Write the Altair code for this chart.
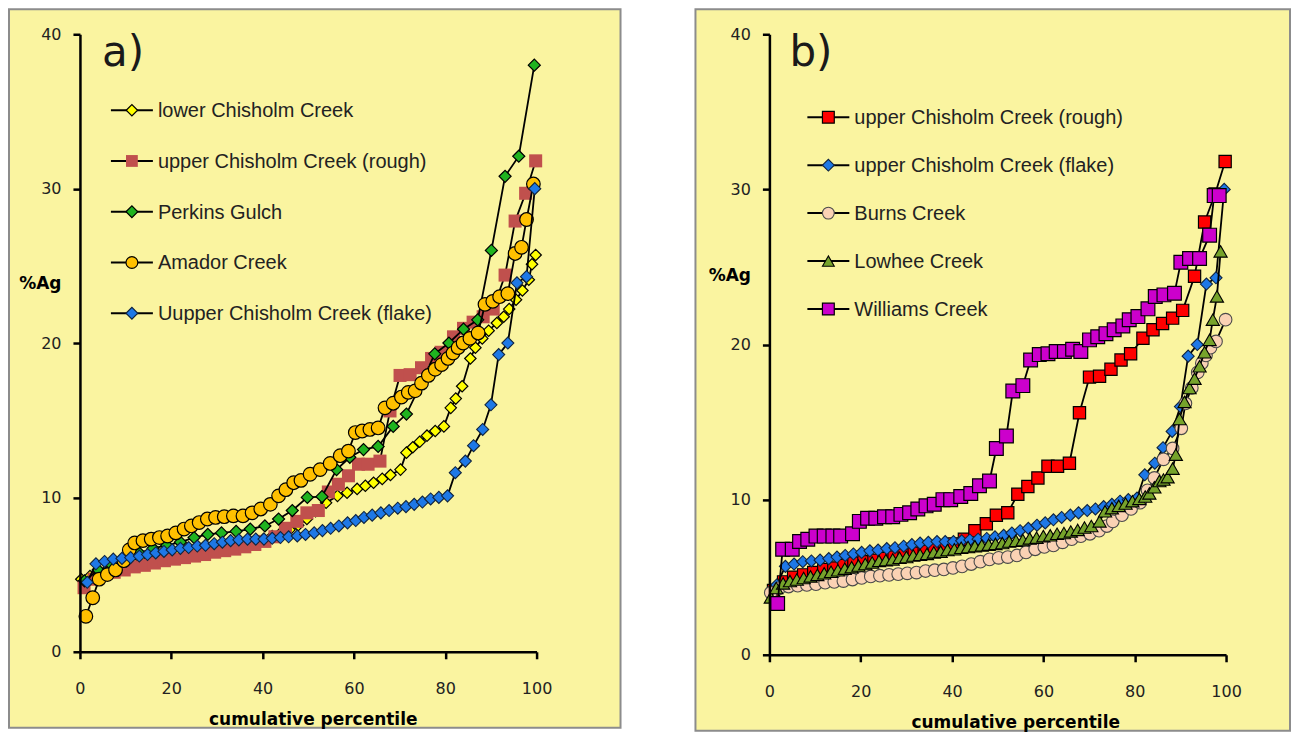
import altair as alt
import pandas as pd

# ---------------- data ----------------
# panel a
LOWER_P = [0.3, 2.2, 4.1, 6.0, 7.9, 9.8, 11.7, 13.6, 15.5, 17.4, 19.3, 21.2, 23.1, 25.0, 26.9, 28.8, 30.7,
           32.6, 34.5, 36.4, 38.3, 40.2, 42.1, 44.0, 45.9, 47.8, 49.7, 51.6, 53.9, 56.4, 58.5, 60.7, 62.5,
           64.3, 66.2, 68.0, 70.2, 71.5, 72.9, 74.4, 76.0, 77.8, 79.7, 81.2, 82.3, 83.7, 85.5, 86.6, 88.1,
           89.5, 91.3, 92.8, 94.0, 95.5, 96.9, 98.3, 99.0, 99.8]
LOWER_V = [4.7, 4.9, 5.1, 5.3, 5.45, 5.6, 5.75, 5.85, 5.95, 6.05, 6.15, 6.25, 6.35, 6.45, 6.55, 6.65, 6.75,
           6.85, 6.95, 7.05, 7.15, 7.3, 7.5, 7.7, 7.9, 8.2, 8.6, 9.1, 9.65, 10.1, 10.3, 10.55, 10.75,
           10.95, 11.2, 11.45, 11.8, 12.9, 13.25, 13.6, 14.0, 14.3, 14.6, 15.8, 16.4, 17.2, 19.0, 19.7, 20.3,
           20.8, 21.3, 21.7, 22.2, 22.8, 23.4, 24.1, 25.1, 25.7]

PERKINS_P = [1.0, 4.0, 7.0, 10.0, 13.0, 16.0, 19.0, 22.0, 25.0, 28.0, 31.0, 34.2, 37.3, 40.5, 43.5, 46.5,
             49.8, 53.0, 56.2, 59.1, 62.1, 65.3, 68.6, 71.5, 74.6, 77.7, 80.8, 84.0, 87.1, 90.1, 93.1, 96.1, 99.5]
PERKINS_V = [4.6, 5.3, 5.6, 6.0, 6.4, 6.7, 6.9, 7.1, 7.4, 7.6, 7.7, 7.8, 7.95, 8.15, 8.6, 9.15,
             10.0, 10.05, 11.8, 12.6, 13.1, 13.3, 14.6, 15.4, 17.3, 19.3, 20.0, 20.9, 21.5, 26.0, 30.8, 32.1, 38.0]

AMADOR_P = [1.3, 2.8, 4.2, 6.0, 7.8, 9.6, 10.8, 12.0, 13.8, 15.6, 17.4, 19.2, 21.0, 22.8, 24.4, 26.1, 27.9,
            29.7, 31.6, 33.6, 35.7, 37.7, 39.6, 41.7, 43.5, 45.1, 46.8, 48.4, 50.4, 52.6, 54.8, 57.0, 58.8,
            60.3, 61.8, 63.5, 65.3, 66.8, 68.6, 70.4, 71.9, 73.4, 74.8, 76.3, 77.8, 79.2, 80.6, 81.7, 82.8,
            83.9, 85.4, 87.2, 88.7, 90.4, 91.9, 93.7, 95.3, 96.7, 97.8, 99.3]
AMADOR_V = [2.3, 3.5, 4.7, 5.0, 5.3, 5.9, 6.6, 7.05, 7.2, 7.3, 7.4, 7.5, 7.7, 7.95, 8.15, 8.37, 8.6,
            8.7, 8.75, 8.8, 8.8, 9.0, 9.25, 9.55, 10.1, 10.5, 10.95, 11.1, 11.5, 11.8, 12.2, 12.7, 13.0,
            14.2, 14.3, 14.4, 14.5, 15.8, 16.1, 16.5, 16.8, 16.9, 17.4, 17.9, 18.3, 18.6, 19.0, 19.35, 19.7,
            20.0, 20.3, 20.65, 22.5, 22.7, 23.0, 23.2, 25.8, 26.2, 28.0, 30.3]

# shared by both panels
ROUGH_P = [0.9, 3.1, 5.3, 7.5, 9.7, 11.9, 14.1, 16.3, 18.5, 20.7, 22.9, 25.1, 27.3, 29.5, 31.7, 33.9, 36.1,
           38.3, 40.5, 42.7, 45.0, 47.5, 49.7, 52.2, 54.4, 56.6, 58.8, 61.0, 63.1, 65.7, 67.9, 70.1, 72.3,
           74.8, 77.0, 79.1, 81.8, 84.0, 86.1, 88.3, 90.5, 93.1, 95.3, 97.6, 99.8]
ROUGH_V = [4.15, 4.7, 5.0, 5.15, 5.3, 5.5, 5.6, 5.75, 5.9, 6.0, 6.1, 6.2, 6.3, 6.45, 6.55, 6.65, 6.8,
           6.95, 7.15, 7.45, 8.0, 8.45, 9.0, 9.15, 10.35, 10.85, 11.4, 12.15, 12.15, 12.35, 15.6, 17.9, 17.95,
           18.4, 19.0, 19.4, 20.4, 20.95, 21.35, 21.7, 22.2, 24.4, 27.9, 29.7, 31.8]

FLAKE_P = [1.6, 3.5, 5.4, 7.3, 9.2, 11.1, 13.0, 14.8, 16.6, 18.4, 20.2, 22.0, 23.8, 25.7, 27.5, 29.4, 31.2,
           33.0, 34.8, 36.7, 38.5, 40.3, 42.1, 43.9, 45.7, 47.6, 49.4, 51.3, 53.1, 54.9, 56.7, 58.6, 60.4,
           62.2, 64.0, 65.9, 67.7, 69.6, 71.4, 73.2, 75.0, 76.8, 78.6, 80.5, 82.2, 84.4, 86.2, 88.2, 90.0,
           91.7, 93.7, 95.7, 97.8, 99.6]
FLAKE_V = [4.5, 5.7, 5.85, 6.0, 6.05, 6.1, 6.2, 6.3, 6.4, 6.5, 6.6, 6.7, 6.75, 6.85, 6.9, 7.0, 7.1,
           7.2, 7.25, 7.3, 7.3, 7.3, 7.35, 7.4, 7.45, 7.5, 7.6, 7.7, 7.85, 8.0, 8.15, 8.35, 8.5,
           8.7, 8.85, 9.0, 9.15, 9.3, 9.4, 9.55, 9.7, 9.9, 10.0, 10.1, 11.6, 12.35, 13.35, 14.4, 16.0,
           19.25, 20.0, 23.9, 24.3, 30.0]

# panel b
BURNS_P = [0.3, 2.2, 4.2, 6.2, 8.2, 10.2, 12.2, 14.2, 16.2, 18.2, 20.2, 22.2, 24.2, 26.2, 28.2, 30.2, 32.2,
           34.2, 36.2, 38.2, 40.2, 42.2, 44.2, 46.2, 48.2, 50.2, 52.2, 54.2, 56.2, 58.2, 60.2, 62.2, 64.2,
           66.2, 68.2, 70.2, 72.2, 73.9, 75.2, 77.2, 79.2, 81.2, 82.8, 84.3, 86.3, 88.3, 90.2, 91.1, 92.5,
           93.8, 94.7, 95.6, 96.6, 97.8, 99.9]
BURNS_V = [4.0, 4.3, 4.4, 4.45, 4.5, 4.55, 4.65, 4.7, 4.75, 4.85, 4.95, 5.05, 5.1, 5.15, 5.2, 5.25, 5.3,
           5.4, 5.45, 5.5, 5.6, 5.7, 5.85, 6.0, 6.15, 6.25, 6.3, 6.4, 6.6, 6.8, 6.95, 7.05, 7.25,
           7.45, 7.65, 7.8, 8.0, 8.3, 8.6, 9.0, 9.4, 9.8, 10.6, 11.4, 12.6, 13.3, 14.6, 16.2, 17.2,
           18.2, 18.8, 19.3, 19.8, 20.2, 21.6]

LOWHEE_P = [0.3, 1.5, 3.0, 4.5, 6.0, 7.5, 9.0, 10.5, 12.0, 13.5, 15.0, 16.5, 18.0, 19.5, 21.0, 22.5, 24.0,
            25.5, 27.0, 28.5, 30.0, 31.5, 33.0, 34.5, 36.0, 37.5, 39.0, 40.5, 42.0, 43.5, 45.0, 46.5, 48.0,
            49.5, 51.0, 52.5, 54.0, 55.5, 57.0, 58.5, 60.0, 61.5, 63.0, 64.5, 66.0, 67.5, 69.0, 70.5, 72.3,
            73.5, 75.0, 76.5, 78.0, 79.5, 81.0, 82.3, 83.2, 84.3, 85.4, 86.3, 87.2, 88.3, 89.0, 89.8, 90.9,
            92.0, 93.1, 94.2, 95.3, 96.4, 97.1, 98.0, 98.8]
LOWHEE_V = [3.7, 4.3, 4.6, 4.75, 4.85, 4.95, 5.05, 5.15, 5.25, 5.35, 5.45, 5.55, 5.65, 5.75, 5.85, 5.95, 6.05,
            6.1, 6.15, 6.25, 6.3, 6.4, 6.45, 6.5, 6.6, 6.65, 6.75, 6.8, 6.9, 6.95, 7.0, 7.05, 7.1,
            7.15, 7.2, 7.3, 7.35, 7.4, 7.5, 7.55, 7.65, 7.7, 7.8, 7.85, 7.95, 8.05, 8.2, 8.3, 8.6,
            9.25, 9.45, 9.6, 9.75, 9.9, 10.05, 10.2, 10.4, 10.8, 11.2, 11.3, 11.45, 12.0, 12.9, 15.2, 16.3,
            17.2, 17.8, 18.6, 19.5, 20.3, 21.6, 23.1, 26.0]

WILLIAMS_P = [1.8, 2.9, 5.0, 6.6, 8.4, 10.2, 12.0, 13.9, 15.6, 18.2, 19.7, 21.5, 23.3, 25.2, 27.0, 28.8, 30.7,
              32.5, 34.3, 36.1, 38.0, 39.7, 41.9, 44.1, 46.0, 48.2, 49.7, 51.9, 53.3, 55.5, 57.2, 59.1, 61.0,
              62.8, 64.6, 66.4, 68.2, 70.1, 71.9, 73.7, 75.5, 77.4, 78.8, 80.7, 82.9, 84.5, 86.4, 88.7, 90.1,
              92.0, 94.2, 96.4, 97.4, 98.5]
WILLIAMS_V = [3.3, 6.8, 6.8, 7.3, 7.45, 7.65, 7.65, 7.65, 7.65, 7.8, 8.6, 8.8, 8.8, 8.9, 8.9, 9.05, 9.15,
              9.4, 9.6, 9.7, 10.0, 10.0, 10.2, 10.4, 10.9, 11.2, 13.3, 14.1, 17.0, 17.35, 19.0, 19.35, 19.4,
              19.55, 19.55, 19.7, 19.55, 20.3, 20.5, 20.7, 20.95, 21.2, 21.6, 21.8, 22.3, 23.1, 23.2, 23.3, 25.3,
              25.55, 25.55, 27.05, 29.6, 29.6]

NAMES_A = ["lower Chisholm Creek", "upper Chisholm Creek (rough)", "Perkins Gulch", "Amador Creek",
           "Uupper Chisholm Creek (flake)"]
NAMES_B = ["upper Chisholm Creek (rough)", "upper Chisholm Creek (flake)", "Burns Creek", "Lowhee Creek",
           "Williams Creek"]
X_TICKS = [0, 20, 40, 60, 80, 100]
Y_TICKS = [0, 10, 20, 30, 40]

# ---------------- styles ----------------
BG = "#FAF4A0"
BORDER = "#8C8C8C"
TICK_FONT = "DejaVu Sans"
LEG_FONT = "Liberation Sans"
W = 457
HA = 618
HB = 621

STY = {
    "yellow": dict(shape="diamond", fill="#FFFF00", stroke="black", strokeWidth=1.2, size=130),
    "brown": dict(shape="square", fill="#C0504D", stroke="#C0504D", strokeWidth=0, size=170),
    "green": dict(shape="diamond", fill="#1FB31F", stroke="black", strokeWidth=1.2, size=145),
    "orange": dict(shape="circle", fill="#FFC000", stroke="black", strokeWidth=1.2, size=185),
    "blue": dict(shape="diamond", fill="#1E78E6", stroke="#10243f", strokeWidth=1.1, size=145),
    "red": dict(shape="square", fill="#FF0000", stroke="black", strokeWidth=1.2, size=150),
    "peach": dict(shape="circle", fill="#FAD2B4", stroke="#4a4a4a", strokeWidth=1.1, size=160),
    "olive": dict(shape="triangle-up", fill="#76A32B", stroke="black", strokeWidth=1.1, size=175),
    "magenta": dict(shape="square", fill="#CC00CC", stroke="black", strokeWidth=1.2, size=190),
}


def panel(series, height, label, xt_x, yt_y, leg_x0, leg_y0, leg_dy, lab_x, rect_x0, rect_x1):
    xaxis = alt.Axis(values=X_TICKS, title="cumulative percentile", grid=False, tickSize=7, tickWidth=2.5,
                     domainWidth=2.5, domainColor="black", tickColor="black", labelFont=TICK_FONT,
                     labelFontSize=16, labelColor="#222222", labelPadding=22, labelFlush=False,
                     titleFont=TICK_FONT, titleFontSize=17, titleFontWeight="bold", titleColor="black",
                     titleX=xt_x, titleY=68, titleBaseline="middle", zindex=1)
    yaxis = alt.Axis(values=Y_TICKS, title="%Ag", grid=False, tickSize=7, tickWidth=2.5,
                     domainWidth=2.5, domainColor="black", tickColor="black", labelFont=TICK_FONT,
                     labelFontSize=16, labelColor="#222222", labelPadding=12, labelFlush=False,
                     titleFont=TICK_FONT, titleFontSize=17, titleFontWeight="bold", titleColor="black",
                     titleAngle=0, titleAlign="right", titleBaseline="middle", titleX=-19, titleY=yt_y,
                     zindex=1)
    xs = alt.Scale(domain=[0, 100], nice=False, zero=False)
    ys = alt.Scale(domain=[0, 40], nice=False, zero=False)
    one = pd.DataFrame({"k": [0]})

    layers = [alt.Chart(one).mark_rect(fill=BG, stroke=BORDER, strokeWidth=2).encode(
        x=alt.value(rect_x0), x2=alt.value(W + rect_x1), y=alt.value(-25), y2=alt.value(height + 76))]

    for name, P, V, sk in series:
        df = pd.DataFrame({"p": P, "v": V})
        st = STY[sk]
        base = alt.Chart(df).encode(x=alt.X("p:Q", scale=xs, axis=xaxis), y=alt.Y("v:Q", scale=ys, axis=yaxis))
        layers.append(base.mark_line(color="black", strokeWidth=1.8))
        layers.append(base.mark_point(filled=True, opacity=1, **st))

    for i, (name, P, V, sk) in enumerate(series):
        st = dict(STY[sk])
        st["size"] = min(st["size"], 140)
        yy = leg_y0 + leg_dy * i
        layers.append(alt.Chart(one).mark_rule(color="black", strokeWidth=2).encode(
            x=alt.value(leg_x0), x2=alt.value(leg_x0 + 42), y=alt.value(yy)))
        layers.append(alt.Chart(one).mark_point(filled=True, opacity=1, **st).encode(
            x=alt.value(leg_x0 + 21), y=alt.value(yy)))
        layers.append(alt.Chart(one).mark_text(text=name, align="left", baseline="middle", font=LEG_FONT,
                                               fontSize=20, color="#222222").encode(
            x=alt.value(leg_x0 + 47), y=alt.value(yy + 1)))

    layers.append(alt.Chart(one).mark_text(text=label, align="left", baseline="alphabetic", font="DejaVu Sans",
                                           fontSize=42, color="#1a1a1a").encode(
        x=alt.value(lab_x), y=alt.value(32)))

    return alt.layer(*layers).properties(width=W, height=height)


series_a = [
    (NAMES_A[0], LOWER_P, LOWER_V, "yellow"),
    (NAMES_A[1], ROUGH_P, ROUGH_V, "brown"),
    (NAMES_A[2], PERKINS_P, PERKINS_V, "green"),
    (NAMES_A[3], AMADOR_P, AMADOR_V, "orange"),
    (NAMES_A[4], FLAKE_P, FLAKE_V, "blue"),
]
series_b = [
    (NAMES_B[0], ROUGH_P, ROUGH_V, "red"),
    (NAMES_B[1], FLAKE_P, FLAKE_V, "blue"),
    (NAMES_B[2], BURNS_P, BURNS_V, "peach"),
    (NAMES_B[3], LOWHEE_P, LOWHEE_V, "olive"),
    (NAMES_B[4], WILLIAMS_P, WILLIAMS_V, "magenta"),
]

pa = panel(series_a, HA, "a)", 233, 249, 31, 76, 50.8, 22, -71, 84)
pb = panel(series_b, HB, "b)", 246, 241, 38, 83, 48, 20, -74, 64)

chart = alt.hconcat(pa, pb, spacing=73).properties(padding=0).configure(background="white").configure_view(stroke=None)
chart.save("out.html", embed_options={"renderer": "svg", "actions": False})
